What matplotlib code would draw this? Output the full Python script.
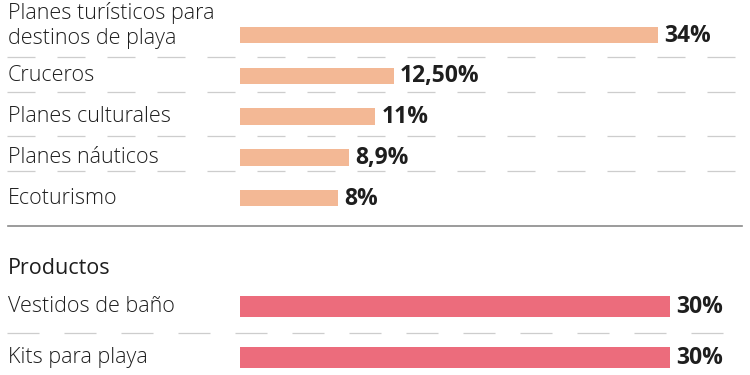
import matplotlib
matplotlib.use('Agg')
import matplotlib.pyplot as plt

plt.rcParams['font.family'] = ['Open Sans', 'DejaVu Sans']

# --- data ---
planes = ["Planes turísticos para\ndestinos de playa", "Cruceros", "Planes culturales",
          "Planes náuticos", "Ecoturismo"]
planes_vals = [34, 12.5, 11, 8.9, 8]
planes_txt = ["34%", "12,50%", "11%", "8,9%", "8%"]

productos = ["Vestidos de baño", "Kits para playa"]
productos_vals = [30, 30]
productos_txt = ["30%", "30%"]

PEACH = '#F3B895'
PINK = '#EC6C7C'
TXT = '#1e1e1e'
W, H = 750, 375

fig = plt.figure(figsize=(7.5, 3.75), dpi=100)
fig.patch.set_facecolor('white')


def px_axes(y0, y1):
    # axes spanning the full width, between pixel rows y0..y1 (from top)
    return fig.add_axes([0, 1 - y1 / H, 1, (y1 - y0) / H])


def dashed(ax, y, x0, x1, period, dash, lw=0.9):
    # dash / period given in pixels -> points, scaled by linewidth
    k = 0.72 / lw
    ax.plot([x0 / W, x1 / W], [y, y], transform=ax.get_yaxis_transform(),
            color='#cdcdcd', lw=lw, dashes=(dash * k, (period - dash) * k),
            solid_capstyle='butt', dash_capstyle='butt')


def draw_bars(ax, labels, vals, txts, color, h):
    ys = list(range(len(vals)))
    ax.barh(ys, vals, height=h, color=color, left=0)
    for y, lab, v, t in zip(ys, labels, vals, txts):
        ax.annotate(t, (v, y), xytext=(4.5, -0.5), textcoords='offset points',
                    va='center', ha='left', fontsize=16.5, fontweight='bold', color=TXT)
        nlines = lab.count('\n')
        ax.annotate(lab, (8 / W, y), xycoords=ax.get_yaxis_transform(),
                    xytext=(0, nlines * 7), textcoords='offset points',
                    va='center', ha='left', fontsize=15.5, fontweight='light',
                    color=TXT, linespacing=1.23)
    return ys


# --- top section: planes ---
ax1 = px_axes(0, 235)
step1 = 40.75
ax1.set_ylim((235 - 35) / step1, -35 / step1)
s1 = 418 / 34
ax1.set_xlim(-240 / s1, (W - 240) / s1)
draw_bars(ax1, planes, planes_vals, planes_txt, PEACH, 16.5 / step1)
# separators sit a bit below each row
for y in [0.54, 1.40, 2.48, 3.34]:
    dashed(ax1, y, 7, 735, 50, 28)
ax1.plot([8 / W, 742 / W], [(226 - 35) / step1] * 2, transform=ax1.get_yaxis_transform(),
         color='#8a8a8a', lw=1.2)
ax1.axis('off')

# --- bottom section: productos ---
ax2 = px_axes(235, 375)
step2 = 51
ax2.set_ylim((375 - 306) / step2, (235 - 306) / step2)
s2 = 430 / 30
ax2.set_xlim(-240 / s2, (W - 240) / s2)
draw_bars(ax2, productos, productos_vals, productos_txt, PINK, 21 / step2)
dashed(ax2, 0.53, 7, 727, 57, 32)
ax2.text(8 / W, (268 - 306) / step2, "Productos", transform=ax2.get_yaxis_transform(),
         va='center', ha='left', fontsize=15.5, fontweight='medium', color=TXT)
ax2.axis('off')

fig.savefig('out.png', dpi=100, facecolor='white')
